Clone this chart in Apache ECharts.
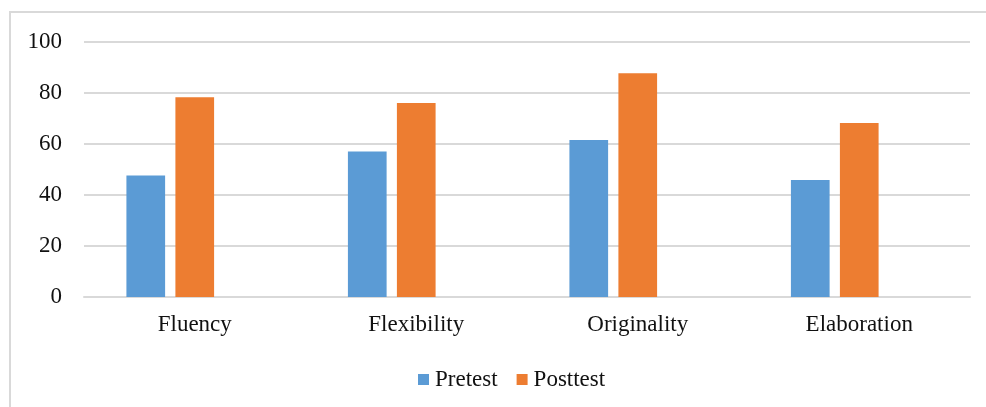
<!DOCTYPE html>
<html><head><meta charset="utf-8">
<script src="https://cdn.jsdelivr.net/npm/echarts@6/dist/echarts.min.js"></script>
<style>html,body{margin:0;padding:0;background:#fff;}#c{width:986px;height:407px;}</style>
</head><body><div id="c"></div>
<script>
const categories = ['Fluency', 'Flexibility', 'Originality', 'Elaboration'];
const pretest = [47.6, 57.0, 61.5, 45.8];
const posttest = [78.3, 76.0, 87.7, 68.2];
const yTicks = [0, 20, 40, 60, 80, 100];

const font = '"Liberation Serif", "Times New Roman", serif';
const chart = echarts.init(document.getElementById('c'), null, {renderer: 'canvas'});
chart.setOption({
  animation: false,
  backgroundColor: '#fff',
  graphic: [{
    type: 'rect', silent: true,
    shape: {x: 10, y: 12, width: 1000, height: 420},
    style: {fill: 'none', stroke: '#d9d9d9', lineWidth: 2}
  }],
  grid: {left: 84, right: 16, top: 41.75, bottom: 110, containLabel: false},
  legend: {
    data: ['Pretest', 'Posttest'],
    left: 413, top: 363,
    itemWidth: 11, itemHeight: 11, itemGap: 19,
    icon: 'rect',
    textStyle: {fontFamily: font, fontSize: 23, color: '#111', padding: [0, 0, 0, 1]}
  },
  xAxis: {
    type: 'category', data: categories,
    axisLine: {show: true, lineStyle: {color: '#d9d9d9', width: 2}},
    axisTick: {show: false},
    axisLabel: {fontFamily: font, fontSize: 23, color: '#111', margin: 16}
  },
  yAxis: {
    type: 'value', min: yTicks[0], max: yTicks[yTicks.length - 1], interval: 20,
    axisLine: {show: false}, axisTick: {show: false},
    splitLine: {lineStyle: {color: '#d9d9d9', width: 2}},
    axisLabel: {fontFamily: font, fontSize: 23, color: '#111', margin: 22}
  },
  series: [
    {name: 'Pretest', type: 'bar', data: pretest, itemStyle: {color: '#5b9bd5'},
     barGap: '26.6%', barCategoryGap: '38.3%'},
    {name: 'Posttest', type: 'bar', data: posttest, itemStyle: {color: '#ed7d31'}},
    {name: 'empty', type: 'bar', data: [null, null, null, null]}
  ]
});
</script></body></html>
